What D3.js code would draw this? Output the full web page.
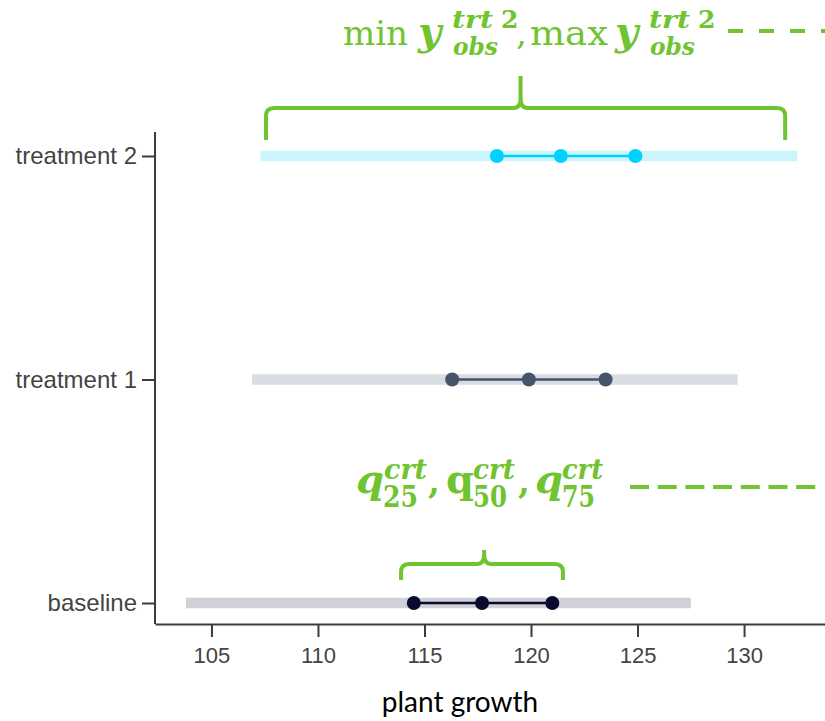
<!DOCTYPE html>
<html>
<head>
<meta charset="utf-8">
<script src="https://cdn.jsdelivr.net/npm/d3@7"></script>
<style>
  body { margin: 0; background: #fff; }
  svg { display: block; }
</style>
</head>
<body>
<div id="chart"></div>
<script>

// data
const categories = ['treatment 2', 'treatment 1', 'baseline'];
const rangeMin = [107.3, 106.9, 103.8];
const rangeMax = [132.5, 129.7, 127.5];
const q25 = [118.4, 116.3, 114.5];
const q50 = [121.4, 119.9, 117.7];
const q75 = [124.9, 123.5, 121.0];
const xTicks = [105, 110, 115, 120, 125, 130];

// annotation extents, in data units
const topBrace = [107.56, 119.51, 131.93];
const bottomBrace = [113.9, 117.8, 121.5];

RangeChart = {

  margin: {top: 132, bottom: 97, left: 155, right: 0},
  svgSize: {width: 825, height: 721},
  green: '#70c430',
  barColors: {'treatment 2': '#ccf4fd', 'treatment 1': '#d9dce1', 'baseline': '#cfd0d8'},
  dotColors: {'treatment 2': '#00d2ff', 'treatment 1': '#44546a', 'baseline': '#0a0a2e'},

  graphWidth: function(){
    return this.svgSize.width - this.margin.left - this.margin.right;
  },

  graphHeight: function(){
    return this.svgSize.height - this.margin.top - this.margin.bottom;
  },

  createSVG: function(){
    this.svg = d3.select('#chart').append('svg')
      .attr('width', this.svgSize.width)
      .attr('height', this.svgSize.height)
    this.g = this.svg.append('g')
      .attr('transform', `translate(${this.margin.left}, ${this.margin.top})`)
  },

  createScales: function(){
    this.xScale = d3.scaleLinear().domain([102.35, 133.8]).range([0, this.graphWidth()])
    this.yScale = d3.scalePoint().domain(categories).range([24, 471])
  },

  createAxis: function(){
    const xAxis = d3.axisBottom(this.xScale)
      .tickValues(xTicks)
      .tickSize(13)
      .tickSizeOuter(0)
      .tickPadding(10)
    const yAxis = d3.axisLeft(this.yScale)
      .tickSize(13)
      .tickPadding(5)

    this.xAxisGroup = this.g.append('g')
      .attr('transform', `translate(0, ${this.graphHeight()})`)
      .call(xAxis)
    this.yAxisGroup = this.g.append('g').call(yAxis)
    this.yAxisGroup.select('.domain').remove()
    this.g.append('line')
      .attr('x1', 0).attr('x2', 0)
      .attr('y1', 0).attr('y2', this.graphHeight())
      .attr('stroke', '#3c3c3c')
      .attr('stroke-width', 2)

    this.g.selectAll('.domain, .tick line')
      .attr('stroke', '#3c3c3c')
      .attr('stroke-width', 2)
    this.xAxisGroup.selectAll('text')
      .attr('font-family', 'Liberation Sans, Arial, sans-serif')
      .attr('font-size', 22)
      .attr('fill', '#444')
    this.yAxisGroup.selectAll('text')
      .attr('font-family', 'Liberation Sans, Arial, sans-serif')
      .attr('font-size', 24)
      .attr('fill', '#444')

    this.svg.append('text')
      .attr('x', 460)
      .attr('y', 712)
      .attr('text-anchor', 'middle')
      .attr('font-family', 'Lato, Open Sans, sans-serif')
      .attr('font-size', 28)
      .attr('fill', '#000')
      .text('plant growth')
  },

  createRanges: function(){
    const rows = categories.map((c, i) => ({
      name: c, min: rangeMin[i], max: rangeMax[i], q: [q25[i], q50[i], q75[i]]
    }))

    this.g.selectAll('.range')
      .data(rows)
      .enter()
      .append('rect')
      .attr('class', 'range')
      .attr('x', (d) => this.xScale(d.min))
      .attr('width', (d) => this.xScale(d.max) - this.xScale(d.min))
      .attr('y', (d) => this.yScale(d.name) - 5.25)
      .attr('height', 10.5)
      .attr('fill', (d) => this.barColors[d.name])

    this.g.selectAll('.iqr')
      .data(rows)
      .enter()
      .append('line')
      .attr('class', 'iqr')
      .attr('x1', (d) => this.xScale(d.q[0]))
      .attr('x2', (d) => this.xScale(d.q[2]))
      .attr('y1', (d) => this.yScale(d.name))
      .attr('y2', (d) => this.yScale(d.name))
      .attr('stroke', (d) => this.dotColors[d.name])
      .attr('stroke-width', 2.5)

    const dots = rows.flatMap((d) => d.q.map((v) => ({name: d.name, v: v})))
    this.g.selectAll('.dot')
      .data(dots)
      .enter()
      .append('circle')
      .attr('class', 'dot')
      .attr('cx', (d) => this.xScale(d.v))
      .attr('cy', (d) => this.yScale(d.name))
      .attr('r', 7)
      .attr('fill', (d) => this.dotColors[d.name])
  },

  bracePath: function(x0, xm, x1, yEnd, yBar, yTip){
    const r = 8;
    return `M${x0},${yEnd} L${x0},${yBar + r} Q${x0},${yBar} ${x0 + r},${yBar}` +
      ` L${xm - 7},${yBar} Q${xm},${yBar} ${xm},${yBar - 10} L${xm},${yTip}` +
      ` M${xm},${yBar - 10} Q${xm},${yBar} ${xm + 7},${yBar}` +
      ` L${x1 - r},${yBar} Q${x1},${yBar} ${x1},${yBar + r} L${x1},${yEnd}`
  },

  createBraces: function(){
    const yTop = this.yScale('treatment 2');
    const yBot = this.yScale('baseline');
    const x = this.xScale;
    this.g.append('path')
      .attr('d', this.bracePath(x(topBrace[0]), x(topBrace[1]), x(topBrace[2]), yTop - 16, yTop - 48, yTop - 80))
      .attr('fill', 'none')
      .attr('stroke', this.green)
      .attr('stroke-width', 4)
    this.g.append('path')
      .attr('d', this.bracePath(x(bottomBrace[0]), x(bottomBrace[1]), x(bottomBrace[2]), yBot - 23, yBot - 39, yBot - 53))
      .attr('fill', 'none')
      .attr('stroke', this.green)
      .attr('stroke-width', 4)
  },

  addPieces: function(pieces){
    pieces.forEach((p) => {
      const t = this.svg.append('text')
        .attr('x', p.x)
        .attr('y', p.y)
        .attr('font-family', 'DejaVu Serif, serif')
        .attr('font-size', p.size)
        .attr('font-style', p.it ? 'italic' : 'normal')
        .attr('font-weight', p.b ? 'bold' : 'normal')
        .attr('fill', this.green)
        .text(p.t)
      if (p.len) t.attr('textLength', p.len).attr('lengthAdjust', 'spacingAndGlyphs')
    })
  },

  createLabels: function(){
    this.addPieces([
      {t: 'min', x: 343, y: 45, size: 34, len: 65},
      {t: 'y', x: 418, y: 45, size: 40, it: 1, b: 1},
      {t: 'trt', x: 452, y: 28, size: 25, it: 1, b: 1, len: 41},
      {t: '2', x: 501, y: 28, size: 25, b: 1},
      {t: 'obs', x: 453, y: 55, size: 25, it: 1, b: 1, len: 45},
      {t: ',', x: 516, y: 45, size: 34},
      {t: 'max', x: 530, y: 45, size: 34, len: 78},
      {t: 'y', x: 615, y: 45, size: 40, it: 1, b: 1},
      {t: 'trt', x: 649, y: 28, size: 25, it: 1, b: 1, len: 41},
      {t: '2', x: 698, y: 28, size: 25, b: 1},
      {t: 'obs', x: 650, y: 55, size: 25, it: 1, b: 1, len: 45},

      {t: 'q', x: 356, y: 493, size: 40, it: 1, b: 1},
      {t: 'crt', x: 384, y: 479, size: 27, it: 1, b: 1, len: 43},
      {t: '25', x: 383, y: 507, size: 30, b: 1, len: 35},
      {t: ',', x: 428, y: 493, size: 34, b: 1},
      {t: 'q', x: 446, y: 493, size: 40, b: 1},
      {t: 'crt', x: 473, y: 479, size: 27, it: 1, b: 1, len: 42},
      {t: '50', x: 473, y: 507, size: 30, b: 1, len: 34},
      {t: ',', x: 518, y: 493, size: 34, b: 1},
      {t: 'q', x: 535, y: 493, size: 40, it: 1, b: 1},
      {t: 'crt', x: 562, y: 479, size: 27, it: 1, b: 1, len: 41},
      {t: '75', x: 562, y: 507, size: 30, b: 1, len: 33}
    ])

    // dashed leaders off to the right
    this.svg.append('line')
      .attr('x1', 728).attr('x2', 825).attr('y1', 31).attr('y2', 31)
      .attr('stroke', this.green).attr('stroke-width', 4)
      .attr('stroke-dasharray', '15,16')
    this.svg.append('line')
      .attr('x1', 630).attr('x2', 816).attr('y1', 487).attr('y2', 487)
      .attr('stroke', this.green).attr('stroke-width', 4)
      .attr('stroke-dasharray', '19,8.7')
  },

  loadChart: function(){
    this.createSVG();
    this.createScales();
    this.createRanges();
    this.createAxis();
    this.createBraces();
    this.createLabels();
  },

}

RangeChart.loadChart()

</script>
</body>
</html>
